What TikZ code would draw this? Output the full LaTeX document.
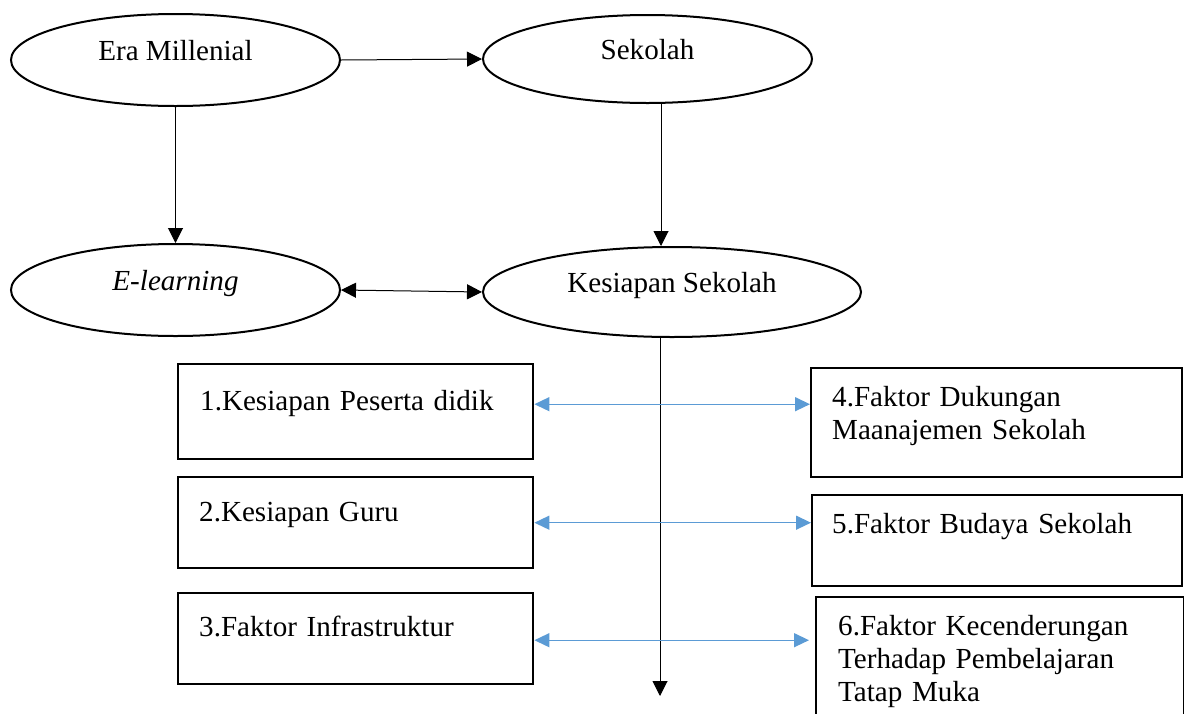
\documentclass[tikz,border=0pt]{standalone}
\usepackage{fontspec}
\setmainfont{Liberation Serif}
\usepackage{xcolor}
\usepackage{tikz}
\usetikzlibrary{arrows.meta,shapes.geometric}
\definecolor{linkblue}{HTML}{5B9BD5}
\tikzstyle{oval} = [draw, ellipse, line width=1pt, inner sep=0pt, text height=10pt, text depth=10pt]
\tikzstyle{factor} = [draw, rectangle, line width=1.2pt, anchor=north west, align=left, inner ysep=0pt]
\tikzstyle{link} = [<->, draw=linkblue, line width=0.7pt, >={Triangle[length=7.5pt,width=7pt,fill=linkblue]}]

\begin{document}
\begin{tikzpicture}[x=0.5pt, y=-0.5pt, line width=0.5pt, >={Triangle[length=7.5pt,width=7.5pt]}, font=\fontsize{14.55}{16.5}\selectfont]
		\useasboundingbox (0,0) rectangle (1184,713);
		\clip (0,0) rectangle (1184,713);

		\node [oval, minimum width=164.5pt, minimum height=46pt] (era) at (175.5,60) {Era Millenial};
		\node [oval, minimum width=164.5pt, minimum height=44pt] (sekolah) at (647.5,59) {Sekolah};
		\node [oval, minimum width=164.5pt, minimum height=46pt] (elearning) at (175.5,290) {\itshape E-learning};
		\node [oval, minimum width=189pt, minimum height=45pt] (kesiapan) at (672,292) {Kesiapan Sekolah};

		\node [factor, inner xsep=11pt, text width=155.5pt, text height=23pt, text depth=24.5pt] (peserta) at (177,363) {1.Kesiapan Peserta didik};
		\node [factor, inner xsep=10.5pt, text width=156.5pt, text height=22pt, text depth=23.5pt] (guru) at (177,476) {2.Kesiapan Guru};
		\node [factor, inner xsep=10.5pt, text width=156.5pt, text height=21.5pt, text depth=24pt] (infra) at (177,592) {3.Faktor Infrastruktur};
		\node [factor, inner xsep=10.5pt, text width=164.5pt, text height=19pt, text depth=35.5pt] (dukungan) at (810,367) {4.Faktor Dukungan\\Maanajemen Sekolah};
		\node [factor, inner xsep=10pt, text width=165pt, text height=19pt, text depth=26.5pt] (budaya) at (811,494) {5.Faktor Budaya Sekolah};
		\node [factor, inner xsep=11pt, text width=162pt, text height=19pt, text depth=51pt] (tatapmuka) at (815,596) {6.Faktor Kecenderungan\\Terhadap Pembelajaran\\Tatap Muka};

		\coordinate (bawah) at (660,696);

		\draw [->] (era.east) -- (sekolah.west);
		\draw [->] (era.south) -- (elearning.north);
		\draw [->] ([xshift=6.75pt]sekolah.south) -- ([xshift=-5.5pt]kesiapan.north);
		\draw [<->] (elearning.east) -- (kesiapan.west);
		\draw [->] (kesiapan.south -| bawah) -- (bawah);

		\draw [link] ([yshift=3.75pt]peserta.east) -- ([yshift=3.75pt]peserta.east -| dukungan.west);
		\draw [link] (guru.east) -- (guru.east -| budaya.west);
		\draw [link, shorten >=3pt] ([yshift=-0.75pt]infra.east) -- ([yshift=-0.75pt]infra.east -| tatapmuka.west);
	\end{tikzpicture}
\end{document}
